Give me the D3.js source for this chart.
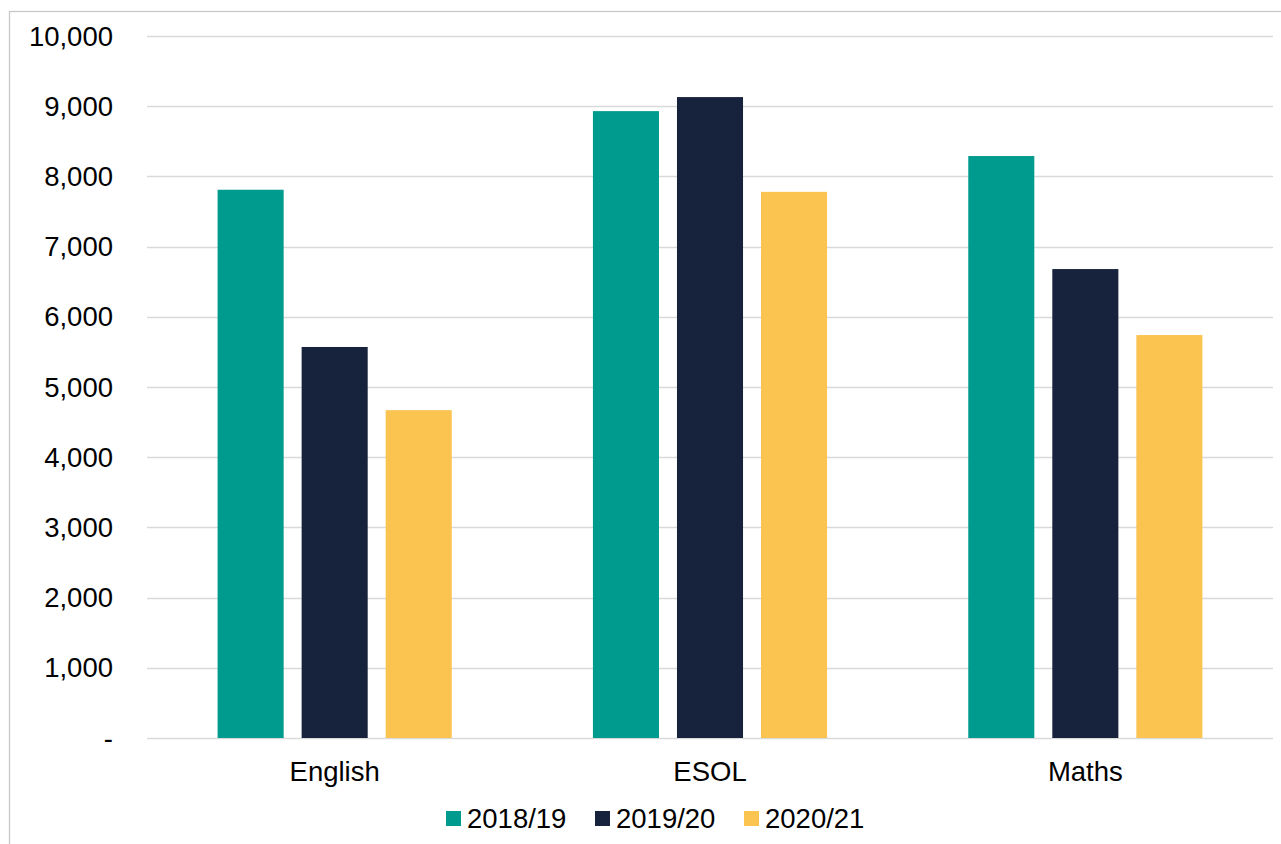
<!DOCTYPE html>
<html><head><meta charset="utf-8">
<script src="https://cdn.jsdelivr.net/npm/d3@7"></script>
<style>body{margin:0;background:#fff}svg{display:block;font-family:"Liberation Sans",Arial,sans-serif}</style>
</head><body>
<script>
const categories = ["English","ESOL","Maths"];
const seriesNames = ["2018/19","2019/20","2020/21"];
const s2018 = [7810, 8930, 8290];
const s2019 = [5570, 9130, 6680];
const s2020 = [4670, 7780, 5740];
const yTicks = [0,1000,2000,3000,4000,5000,6000,7000,8000,9000,10000];
const colors = ["#009B8F","#17233D","#FBC34F"];

const W=1281,H=844;
const svg=d3.select("body").append("svg").attr("width",W).attr("height",H);
svg.append("rect").attr("x",9.5).attr("y",11.5).attr("width",W+10).attr("height",H+10)
  .attr("fill","none").attr("stroke","#c8c8c8").attr("stroke-width",1.3);

const pLeft=147,pRight=1273,pTop=36,pBottom=738;
const x0=d3.scaleBand().domain(categories).range([pLeft,pRight]).paddingInner(0).paddingOuter(0);
const y=d3.scaleLinear().domain([0,10000]).range([pBottom,pTop]);
const x1=d3.scaleBand().domain(seriesNames).range([0,x0.bandwidth()]).paddingInner(0.214).paddingOuter(0.84);

const g=svg.append("g");
g.selectAll("line.grid").data(yTicks).join("line")
  .attr("x1",pLeft).attr("x2",pRight).attr("y1",d=>Math.round(y(d))+0.5).attr("y2",d=>Math.round(y(d))+0.5)
  .attr("stroke","#d9d9d9").attr("stroke-width",1.3);

const fmt=d=>d===0?"-":d3.format(",")(d);
g.selectAll("text.yt").data(yTicks).join("text")
  .attr("x",113).attr("y",d=>y(d)+9.5).attr("text-anchor","end")
  .attr("font-size",27.5).attr("fill","#000").text(fmt);

const series=[s2018,s2019,s2020];
categories.forEach((c,ci)=>{
  seriesNames.forEach((s,si)=>{
    g.append("rect").attr("x",x0(c)+x1(s)).attr("width",x1.bandwidth())
      .attr("y",y(series[si][ci])).attr("height",y(0)-y(series[si][ci]))
      .attr("fill",colors[si]);
  });
  g.append("text").attr("x",x0(c)+x0.bandwidth()/2).attr("y",781).attr("text-anchor","middle")
    .attr("font-size",27.5).attr("fill","#000").text(c);
});

const legX=[446,595,744];
seriesNames.forEach((s,i)=>{
  g.append("rect").attr("x",legX[i]).attr("y",811).attr("width",15).attr("height",15).attr("fill",colors[i]);
  g.append("text").attr("x",legX[i]+21).attr("y",828).attr("font-size",27.5).attr("fill","#000").text(s);
});
</script>
</body></html>
